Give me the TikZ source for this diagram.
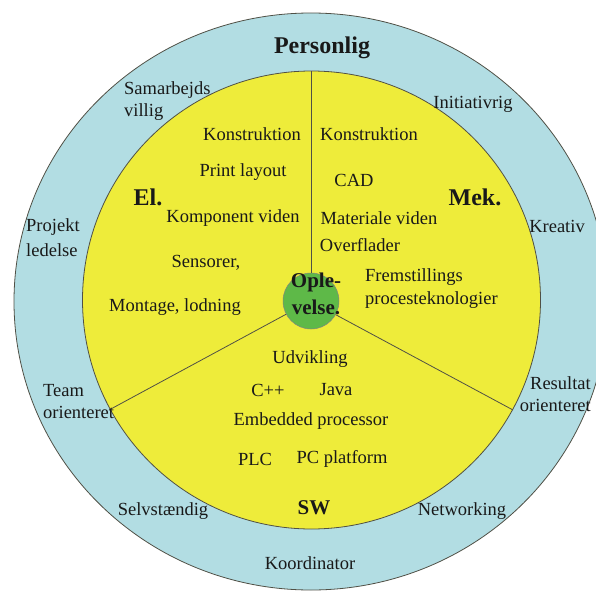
\documentclass[tikz,border=0pt]{standalone}
\usepackage{fontspec}
\setmainfont{Liberation Serif}
\usetikzlibrary{shapes.geometric}
\definecolor{ringblue}{RGB}{178,221,227}
\definecolor{sunyellow}{RGB}{238,236,58}
\definecolor{coregreen}{RGB}{94,185,72}
\definecolor{inkc}{RGB}{25,25,25}
\definecolor{edgec}{RGB}{80,80,70}
\begin{document}
\begin{tikzpicture}[x=1pt,y=-1pt,
  txt/.style={font=\fontsize{18.5}{22}\selectfont, text=inkc, inner sep=0pt},
  big/.style={font=\fontsize{24}{26}\selectfont\bfseries, text=inkc, inner sep=0pt},
  mid/.style={font=\fontsize{21}{24}\selectfont\bfseries, text=inkc, inner sep=0pt},
  divider/.style={draw=edgec, line width=0.8pt}]
\useasboundingbox (0,0) rectangle (596,591);
% rings
\node[ellipse, fill=ringblue, draw=edgec, line width=0.8pt, minimum width=594pt, minimum height=577pt, inner sep=0pt] (outer) at (311,301.5) {};
\node[circle, fill=sunyellow, draw=edgec, line width=0.8pt, minimum size=458pt, inner sep=0pt] (inner) at (311.5,300) {};
\node[circle, fill=coregreen, draw=edgec!70, line width=0.5pt, minimum size=56pt, inner sep=0pt] (core) at (311,301) {};
% divider end points
\coordinate (ptop) at (311,71);
\coordinate (pleft) at (109,410);
\coordinate (pright) at (513,410);
\draw[divider] (core.north) -- (ptop);
\draw[divider] (core.208.5) -- (pleft);
\draw[divider] (core.331.5) -- (pright);
% outer ring texts
\node[big] (personlig) at (322,48) {Personlig};
\node[txt, align=left, anchor=west, font=\fontsize{18.5}{22}\selectfont] (samarb) at (124,101) {Samarbejds\\villig};
\node[txt] (initiativ) at (473,104) {Initiativrig};
\node[txt, align=left, anchor=west, font=\fontsize{18.5}{25}\selectfont] (projekt) at (26,238) {Projekt\\ledelse};
\node[txt] (kreativ) at (557,226) {Kreativ};
\node[txt, align=left, anchor=west, font=\fontsize{18.5}{22}\selectfont] (team) at (43,402) {Team\\orienteret};
\node[txt, align=right, anchor=east, font=\fontsize{18.5}{22}\selectfont] (resultat) at (591,394) {Resultat\\orienteret};
\node[txt] (selv) at (163,511) {Selvstændig};
\node[txt] (netw) at (462,511) {Networking};
\node[txt] (koord) at (310,563) {Koordinator};
% El. sector
\node[big] (el) at (148,197) {El.};
\node[txt] (konstr1) at (252,134) {Konstruktion};
\node[txt] (print) at (243,172) {Print layout};
\node[txt] (kompo) at (233,218) {Komponent viden};
\node[txt] (sensor) at (206,263) {Sensorer,};
\node[txt] (montage) at (175,307) {Montage, lodning};
% Mek. sector
\node[big] (mek) at (475,197) {Mek.};
\node[txt] (konstr2) at (369,134) {Konstruktion};
\node[txt] (cad) at (354,180) {CAD};
\node[txt] (materiale) at (379,218) {Materiale viden};
\node[txt] (overfl) at (360,245) {Overflader};
\node[txt, align=left, anchor=west, font=\fontsize{18.5}{23}\selectfont] (fremst) at (365,289) {Fremstillings\\procesteknologier};
% SW sector
\node[txt] (udv) at (310,359) {Udvikling};
\node[txt] (cpp) at (268,390) {C++};
\node[txt] (java) at (336,390) {Java};
\node[txt] (embedded) at (311,421) {Embedded processor};
\node[txt] (plc) at (255,459) {PLC};
\node[txt] (pcplat) at (342,459) {PC platform};
\node[mid] (sw) at (314,508) {SW};
% core text
\node[mid, align=center, font=\fontsize{21}{27}\selectfont\bfseries] (ople) at (316,294) {Ople-\\velse.};
\end{tikzpicture}
\end{document}
